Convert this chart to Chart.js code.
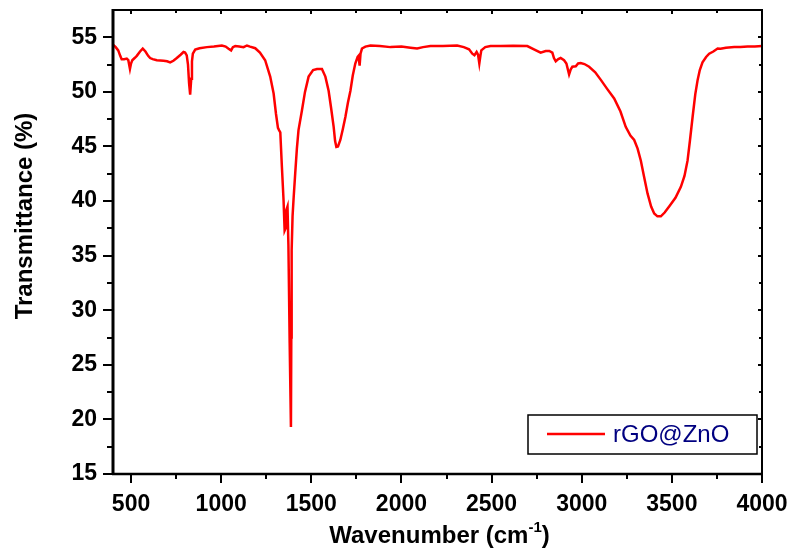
<!DOCTYPE html>
<html>
<head>
<meta charset="utf-8">
<script src="https://cdn.jsdelivr.net/npm/chart.js@4"></script>
<style>
  body { margin: 0; background: #fff; }
  canvas { display: block; }
</style>
</head>
<body>
<canvas id="ftirChart" width="793" height="552"></canvas>
<script>
// FTIR spectrum, values
const wavenumbers = [
  400, 415, 429, 440, 448, 462, 476, 485, 494, 500, 507, 520, 532, 550, 565, 580, 595, 606, 620, 643,
  680, 700, 717, 735, 754, 775, 791, 800, 809, 816, 822, 828, 834, 838, 843, 856, 880, 921, 960, 1004,
  1025, 1041, 1055, 1065, 1078, 1100, 1124, 1143, 1160, 1189, 1215, 1244, 1272, 1291, 1304, 1315, 1321, 1328,
  1337, 1346, 1352, 1357, 1362, 1368, 1373, 1380, 1387, 1389, 1391, 1396, 1402, 1411, 1420, 1429, 1448, 1465, 1485,
  1510, 1532, 1559, 1578, 1596, 1610, 1624, 1632, 1639, 1648, 1661, 1675, 1689, 1703, 1717, 1730, 1744, 1757, 1762,
  1768, 1773, 1781, 1800, 1828, 1880, 1939, 2000, 2050, 2087, 2120, 2161, 2230, 2309, 2346, 2375, 2393, 2405, 2417, 2425,
  2432, 2438, 2443, 2465, 2494, 2550, 2620, 2698, 2735, 2772, 2800, 2820, 2837, 2846, 2856, 2870, 2883, 2902, 2915, 2930,
  2940, 2948, 2967, 2980, 2994, 3015, 3041, 3075, 3106, 3140, 3180, 3215, 3244, 3270, 3291, 3310, 3328, 3345, 3365, 3385,
  3402, 3420, 3439, 3460, 3485, 3520, 3550, 3570, 3587, 3600, 3615, 3630, 3643, 3655, 3670, 3690, 3707, 3730, 3754, 3770,
  3800, 3846, 3880, 3920, 3960, 4000
];
const transmittance = [
  54.33, 54.1, 53.8, 53.3, 53.0, 53.0, 53.05, 52.9, 52.1, 52.6, 52.9, 53.1, 53.3, 53.7, 53.97, 53.7, 53.3, 53.1, 53.0, 52.9,
  52.85, 52.8, 52.7, 52.85, 53.1, 53.4, 53.65, 53.6, 53.35, 52.5, 50.8, 49.75, 51.2, 52.8, 53.5, 53.87, 54.0, 54.1, 54.15, 54.25,
  54.15, 53.95, 53.8, 54.1, 54.2, 54.15, 54.1, 54.25, 54.15, 54.0, 53.6, 52.9, 51.4, 49.85, 48.0, 46.7, 46.5, 46.3,
  43.1, 40.1, 37.3, 37.5, 39.2, 39.5, 36.0, 27.0, 19.3, 27.5, 35.5, 38.6, 40.3, 42.6, 44.8, 46.5, 48.3, 50.0, 51.4,
  52.0, 52.1, 52.1, 51.4, 50.1, 48.5, 46.8, 45.5, 44.96, 45.0, 45.6, 46.6, 47.7, 49.0, 50.1, 51.5, 52.6, 53.2, 53.3,
  52.4, 53.5, 53.97, 54.15, 54.25, 54.2, 54.1, 54.15, 54.05, 53.97, 54.1, 54.2, 54.2, 54.25, 54.1, 53.9, 53.5, 53.35, 53.65, 53.4,
  52.6, 53.3, 53.8, 54.1, 54.2, 54.2, 54.22, 54.2, 53.9, 53.6, 53.75, 53.75, 53.6, 53.1, 52.8, 53.0, 53.1, 52.9, 52.6, 51.6,
  52.1, 52.3, 52.35, 52.6, 52.65, 52.55, 52.3, 51.8, 51.1, 50.3, 49.4, 48.2, 46.8, 46.0, 45.6, 44.8, 43.7, 42.3, 40.7, 39.5,
  38.86, 38.6, 38.6, 38.95, 39.5, 40.3, 41.3, 42.3, 43.7, 45.5, 47.7, 49.8, 51.1, 52.0, 52.7, 53.2, 53.5, 53.7, 53.97, 53.95,
  54.05, 54.1, 54.1, 54.15, 54.15, 54.2
];
const xTickValues = [500, 1000, 1500, 2000, 2500, 3000, 3500, 4000];
const yTickValues = [15, 20, 25, 30, 35, 40, 45, 50, 55];
const seriesLabel = 'rGO@ZnO';

const FONT = "'Liberation Sans', Arial, sans-serif";

const framePlugin = {
  id: 'framePlugin',
  afterDraw(chart) {
    const { ctx, chartArea: a, scales: { x, y } } = chart;
    ctx.save();
    ctx.strokeStyle = '#000';
    ctx.lineCap = 'butt';

    // box
    ctx.lineWidth = 2;
    ctx.strokeRect(a.left, a.top, a.right - a.left, a.bottom - a.top);
    ctx.lineWidth = 3;
    ctx.beginPath();
    ctx.moveTo(a.left, a.top - 1); ctx.lineTo(a.left, a.bottom + 1);
    ctx.stroke();
    ctx.lineWidth = 2.5;
    ctx.beginPath();
    ctx.moveTo(a.left - 1, a.bottom); ctx.lineTo(a.right + 1, a.bottom);
    ctx.stroke();

    // tick marks, minor ones half way between labelled ones
    const xMinor = [];
    for (let i = 0; i < xTickValues.length - 1; i++) xMinor.push((xTickValues[i] + xTickValues[i + 1]) / 2);
    const yMinor = [];
    for (let i = 0; i < yTickValues.length - 1; i++) yMinor.push((yTickValues[i] + yTickValues[i + 1]) / 2);

    ctx.lineWidth = 2;
    ctx.beginPath();
    xTickValues.forEach(v => {
      const px = Math.round(x.getPixelForValue(v));
      ctx.moveTo(px, a.bottom); ctx.lineTo(px, a.bottom + 9);
      ctx.moveTo(px, a.top); ctx.lineTo(px, a.top + 4);
    });
    xMinor.forEach(v => {
      const px = Math.round(x.getPixelForValue(v));
      ctx.moveTo(px, a.bottom); ctx.lineTo(px, a.bottom + 5);
      ctx.moveTo(px, a.top); ctx.lineTo(px, a.top + 3);
    });
    yTickValues.forEach(v => {
      const py = Math.round(y.getPixelForValue(v));
      ctx.moveTo(a.left, py); ctx.lineTo(a.left - 10, py);
      ctx.moveTo(a.right, py); ctx.lineTo(a.right - 4, py);
    });
    yMinor.forEach(v => {
      const py = Math.round(y.getPixelForValue(v));
      ctx.moveTo(a.left, py); ctx.lineTo(a.left - 6, py);
      ctx.moveTo(a.right, py); ctx.lineTo(a.right - 3, py);
    });
    ctx.stroke();

    // axis titles
    ctx.fillStyle = '#000';
    ctx.textBaseline = 'alphabetic';
    const big = 'bold 24px ' + FONT;
    const small = 'bold 15px ' + FONT;
    const p1 = 'Wavenumber (cm', p2 = '-1', p3 = ')';
    ctx.font = big;
    const w1 = ctx.measureText(p1).width, w3 = ctx.measureText(p3).width;
    ctx.font = small;
    const w2 = ctx.measureText(p2).width;
    let tx = (a.left + a.right) / 2 - (w1 + w2 + w3) / 2 + 2;
    const ty = 543;
    ctx.font = big; ctx.textAlign = 'left';
    ctx.fillText(p1, tx, ty); tx += w1;
    ctx.font = small;
    ctx.fillText(p2, tx, ty - 11); tx += w2;
    ctx.font = big;
    ctx.fillText(p3, tx, ty);

    ctx.save();
    ctx.translate(25, 216);
    ctx.rotate(-Math.PI / 2);
    ctx.textAlign = 'center';
    ctx.textBaseline = 'middle';
    ctx.fillText('Transmittance (%)', 0, 0);
    ctx.restore();

    // legend box
    const lx = a.right - 234, ly = a.bottom - 59, lw = 229, lh = 39;
    ctx.fillStyle = '#fff';
    ctx.fillRect(lx, ly, lw, lh);
    ctx.lineWidth = 1.5;
    ctx.strokeRect(lx, ly, lw, lh);
    ctx.strokeStyle = '#ff0000';
    ctx.lineWidth = 2.5;
    ctx.beginPath();
    ctx.moveTo(lx + 19, ly + 19); ctx.lineTo(lx + 77, ly + 19);
    ctx.stroke();
    ctx.fillStyle = '#000080';
    ctx.font = '24px ' + FONT;
    ctx.textAlign = 'left';
    ctx.textBaseline = 'middle';
    ctx.fillText(seriesLabel, lx + 85, ly + 20);

    ctx.restore();
  }
};

Chart.defaults.color = '#000';

new Chart(document.getElementById('ftirChart').getContext('2d'), {
  type: 'line',
  data: {
    datasets: [{
      label: seriesLabel,
      data: wavenumbers.map((w, i) => ({ x: w, y: transmittance[i] })),
      borderColor: '#ff0000',
      borderWidth: 2.5,
      pointRadius: 0,
      tension: 0,
      fill: false
    }]
  },
  options: {
    responsive: false,
    animation: false,
    layout: { padding: { top: 10, right: 31, left: 0, bottom: 0 } },
    scales: {
      x: {
        type: 'linear',
        min: 400,
        max: 4000,
        grid: { display: false, drawTicks: false },
        border: { display: false },
        afterBuildTicks: s => { s.ticks = xTickValues.map(v => ({ value: v })); },
        afterFit: s => { s.height = 78; s.paddingLeft = 0; s.paddingRight = 0; },
        ticks: {
          padding: 17,
          maxRotation: 0,
          callback: v => String(v),
          font: { family: FONT, size: 23, weight: 'bold' }
        }
      },
      y: {
        min: 15,
        max: 57.5,
        grid: { display: false, drawTicks: false },
        border: { display: false },
        afterBuildTicks: s => { s.ticks = yTickValues.map(v => ({ value: v })); },
        afterFit: s => { s.width = 113; s.paddingTop = 0; s.paddingBottom = 0; },
        ticks: {
          padding: 16,
          callback: v => String(v),
          font: { family: FONT, size: 23, weight: 'bold' }
        }
      }
    },
    plugins: {
      legend: { display: false },
      tooltip: { enabled: false }
    }
  },
  plugins: [framePlugin]
});
</script>
</body>
</html>
